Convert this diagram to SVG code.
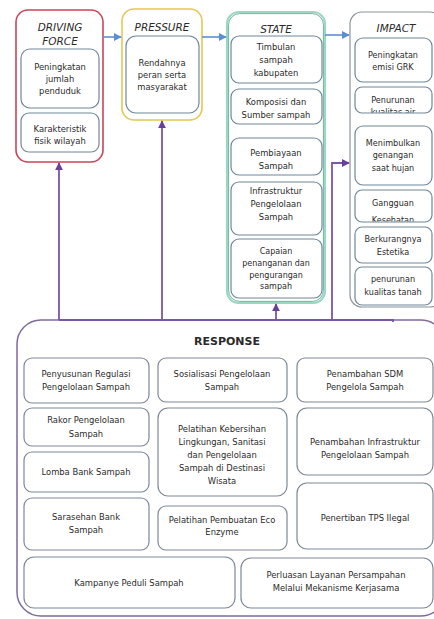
<svg xmlns="http://www.w3.org/2000/svg" width="434" height="619" viewBox="0 0 434 619">
<style>
text{font-family:"DejaVu Sans",Verdana,sans-serif;font-size:8.4px;fill:#2a2a2a;text-anchor:middle}
.ttl{font-style:italic;font-size:10.5px;fill:#2a2a2a}
.rt{font-weight:bold;font-size:11px}
.in{fill:#fff;stroke:#6f879b;stroke-width:1.2}
.rb{fill:#fff;stroke:#7d8896;stroke-width:1.2}
.blue{stroke:#5b8fcf;stroke-width:1.6;fill:none}
.pur{stroke:#7b55a6;stroke-width:1.8;fill:none}
.sm{font-size:8px}
.nr{font-size:8.1px}
</style>
<defs>
<marker id="ab" viewBox="0 0 10 10" refX="9" refY="5" markerWidth="5" markerHeight="5" orient="auto"><path d="M0,0L10,5L0,10z" fill="#5b8fcf"/></marker>
<marker id="ap" viewBox="0 0 10 10" refX="9" refY="5" markerWidth="4.5" markerHeight="4.5" orient="auto"><path d="M0,0L10,5L0,10z" fill="#6a3f9a"/></marker>
<clipPath id="c1"><rect x="355" y="87" width="77" height="25.5"/></clipPath>
<clipPath id="c2"><rect x="355" y="190" width="77" height="31.5"/></clipPath>
</defs>
<rect width="434" height="619" fill="#fff"/>

<g id="response">
<rect x="17" y="320" width="428" height="296" rx="24" fill="#fff" stroke="#7f6aa0" stroke-width="1.5"/>
<text x="227" y="345" class="rt">RESPONSE</text>
<g id="r1"><rect class="rb" x="24" y="358" width="125" height="45" rx="8"/><text x="86" y="377">Penyusunan Regulasi</text><text x="86" y="390">Pengelolaan Sampah</text></g>
<g id="r2"><rect class="rb" x="24" y="408" width="125" height="38" rx="8"/><text x="86" y="423">Rakor Pengelolaan</text><text x="86" y="437">Sampah</text></g>
<g id="r3"><rect class="rb" x="24" y="452" width="125" height="40" rx="8"/><text x="86" y="475">Lomba Bank Sampah</text></g>
<g id="r4"><rect class="rb" x="24" y="498" width="125" height="52" rx="8"/><text x="86" y="520">Sarasehan Bank</text><text x="86" y="533">Sampah</text></g>
<g id="r5"><rect class="rb" x="158" y="358" width="129" height="44" rx="8"/><text x="222" y="377">Sosialisasi Pengelolaan</text><text x="222" y="390">Sampah</text></g>
<g id="r6"><rect class="rb" x="158" y="408" width="129" height="88" rx="10"/><text x="222" y="432">Pelatihan Kebersihan</text><text x="222" y="445">Lingkungan, Sanitasi</text><text x="222" y="458">dan Pengelolaan</text><text x="222" y="471">Sampah di Destinasi</text><text x="222" y="484">Wisata</text></g>
<g id="r7"><rect class="rb" x="158" y="506" width="129" height="44" rx="8"/><text x="222" y="523">Pelatihan Pembuatan Eco</text><text x="222" y="535">Enzyme</text></g>
<g id="r8"><rect class="rb" x="297" y="358" width="136" height="44" rx="8"/><text x="365" y="377">Penambahan SDM</text><text x="365" y="390">Pengelola Sampah</text></g>
<g id="r9"><rect class="rb" x="297" y="408" width="136" height="67" rx="10"/><text x="365" y="445">Penambahan Infrastruktur</text><text x="365" y="458">Pengelolaan Sampah</text></g>
<g id="r10"><rect class="rb" x="297" y="483" width="136" height="66" rx="10"/><text x="365" y="521">Penertiban TPS Ilegal</text></g>
<g id="r11"><rect class="rb" x="24" y="557" width="211" height="51" rx="10"/><text x="129" y="586">Kampanye Peduli Sampah</text></g>
<g id="r12"><rect class="rb" x="241" y="558" width="192" height="50" rx="10"/><text x="336" y="578">Perluasan Layanan Persampahan</text><text x="336" y="591">Melalui Mekanisme Kerjasama</text></g>
</g>

<g id="driving-force">
<rect x="16" y="10" width="87" height="152" rx="12" fill="#fff" stroke="#c9465a" stroke-width="1.6"/>
<text x="60" y="31" class="ttl">DRIVING</text><text x="60" y="45" class="ttl">FORCE</text>
<rect class="in" x="21" y="49" width="78" height="59" rx="9"/>
<text x="60" y="70">Peningkatan</text><text x="60" y="82">jumlah</text><text x="60" y="94">penduduk</text>
<rect class="in" x="21" y="113" width="78" height="39" rx="8"/>
<text x="60" y="132">Karakteristik</text><text x="60" y="144">fisik wilayah</text>
</g>

<g id="pressure">
<rect x="122" y="9" width="80" height="111" rx="12" fill="#fff" stroke="#e6c84e" stroke-width="1.6"/>
<text x="162" y="31" class="ttl">PRESSURE</text>
<rect class="in" x="126" y="36" width="73" height="77" rx="10"/>
<text x="162" y="66">Rendahnya</text><text x="162" y="78">peran serta</text><text x="162" y="90">masyarakat</text>
</g>

<g id="state">
<rect x="227" y="12" width="98" height="291" rx="12" fill="#fff" stroke="#9ad8c2" stroke-width="2.2"/>
<rect x="228.6" y="13.6" width="94.8" height="287.8" rx="11" fill="none" stroke="#4f9e84" stroke-width="0.8"/>
<text x="276" y="33" class="ttl">STATE</text>
<rect class="in" x="231" y="36" width="91" height="47" rx="8"/>
<text x="276" y="50">Timbulan</text><text x="276" y="63">sampah</text><text x="276" y="76">kabupaten</text>
<rect class="in" x="231" y="89" width="91" height="35" rx="8"/>
<text x="276" y="105">Komposisi dan</text><text x="276" y="118">Sumber sampah</text>
<rect class="in" x="231" y="138" width="91" height="37" rx="8"/>
<text x="276" y="156">Pembiayaan</text><text x="276" y="169">Sampah</text>
<rect class="in" x="231" y="182" width="91" height="53" rx="8"/>
<text x="276" y="194">Infrastruktur</text><text x="276" y="207">Pengelolaan</text><text x="276" y="220">Sampah</text>
<rect class="in" x="231" y="239" width="91" height="59" rx="8"/>
<text x="276" y="254" class="sm">Capaian</text><text x="276" y="266" class="sm">penanganan dan</text><text x="276" y="278" class="sm">pengurangan</text><text x="276" y="289" class="sm">sampah</text>
</g>

<g id="impact">
<rect x="350" y="12" width="92" height="295" rx="12" fill="#fff" stroke="#8c949c" stroke-width="1.2"/>
<text x="396" y="32" class="ttl">IMPACT</text>
<rect class="in" x="355" y="38" width="77" height="44" rx="8"/>
<text x="393" y="58" class="nr">Peningkatan</text><text x="393" y="70" class="nr">emisi GRK</text>
<rect class="in" x="355" y="87" width="77" height="26" rx="7"/>
<text x="393" y="103" class="nr">Penurunan</text><text x="393" y="115" class="nr" clip-path="url(#c1)">kualitas air</text>
<rect class="in" x="355" y="126" width="77" height="59" rx="8"/>
<text x="393" y="146" class="nr">Menimbulkan</text><text x="393" y="158" class="nr">genangan</text><text x="393" y="171" class="nr">saat hujan</text>
<rect class="in" x="355" y="190" width="77" height="32" rx="7"/>
<text x="393" y="206" class="nr">Gangguan</text><text x="393" y="223" class="nr" clip-path="url(#c2)">Kesehatan</text>
<rect class="in" x="355" y="227" width="77" height="36" rx="7"/>
<text x="393" y="242" class="nr">Berkurangnya</text><text x="393" y="255" class="nr">Estetika</text>
<rect class="in" x="355" y="267" width="77" height="38" rx="7"/>
<text x="393" y="282" class="nr">penurunan</text><text x="393" y="295" class="nr">kualitas tanah</text>
</g>

<g id="connectors">
<line class="blue" x1="103" y1="37" x2="121" y2="37" marker-end="url(#ab)"/>
<line class="blue" x1="202" y1="37" x2="226" y2="37" marker-end="url(#ab)"/>
<line class="blue" x1="325" y1="35" x2="349" y2="35" marker-end="url(#ab)"/>
<path class="pur" d="M59,320H393V322"/>
<line class="pur" x1="59" y1="320" x2="59" y2="163" marker-end="url(#ap)"/>
<line class="pur" x1="162" y1="320" x2="162" y2="121" marker-end="url(#ap)"/>
<line class="pur" x1="276" y1="320" x2="276" y2="304" marker-end="url(#ap)"/>
<path class="pur" d="M332,320V163H349" marker-end="url(#ap)"/>
</g>
</svg>
